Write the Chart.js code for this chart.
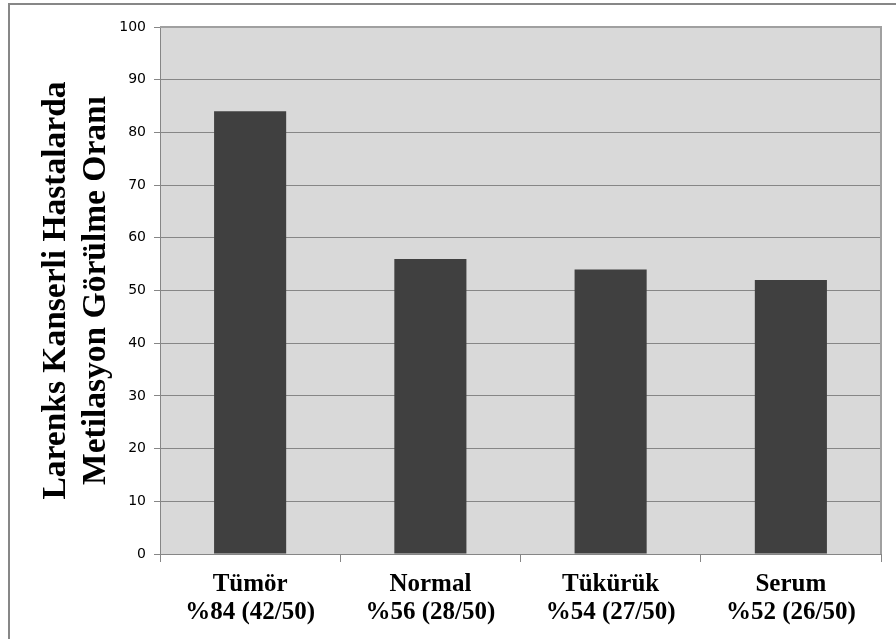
<!DOCTYPE html>
<html>
<head>
<meta charset="utf-8">
<script src="https://cdn.jsdelivr.net/npm/chart.js@4.4.1/dist/chart.umd.min.js"></script>
<style>
  html, body { margin: 0; padding: 0; background: #fff; }
  #wrap { position: relative; width: 896px; height: 639px; overflow: hidden; }
  #frame { position: absolute; left: 8px; top: 3px; width: 900px; height: 700px;
           border-left: 2px solid #878787; border-top: 2px solid #878787; }
  canvas { position: absolute; left: 0; top: 0; }
</style>
</head>
<body>
<div id="wrap">
  <div id="frame"></div>
  <canvas id="chart" width="896" height="639"></canvas>
</div>
<script>
const categories = [
  ['Tümör', '%84 (42/50)'],
  ['Normal', '%56 (28/50)'],
  ['Tükürük', '%54 (27/50)'],
  ['Serum', '%52 (26/50)']
];
const values = [84, 56, 54, 52];
const yTitle = ['Larenks Kanserli Hastalarda', 'Metilasyon Görülme Oranı'];

const plotBg = {
  id: 'plotBg',
  beforeDraw(chart) {
    const { ctx, chartArea: a } = chart;
    ctx.save();
    ctx.fillStyle = '#d9d9d9';
    ctx.fillRect(a.left, a.top, a.right - a.left, a.bottom - a.top);
    ctx.restore();
  },
  afterDatasetsDraw(chart) {
    const { ctx, chartArea: a } = chart;
    ctx.save();
    ctx.strokeStyle = '#a0a0a0';
    ctx.lineWidth = 2;
    ctx.beginPath();
    ctx.moveTo(a.left, a.top);
    ctx.lineTo(a.right, a.top);
    ctx.lineTo(a.right, a.bottom);
    ctx.stroke();
    ctx.restore();
  }
};

new Chart(document.getElementById('chart').getContext('2d'), {
  type: 'bar',
  data: {
    labels: categories,
    datasets: [{
      data: values,
      backgroundColor: '#404040',
      borderWidth: 0,
      barPercentage: 0.4,
      categoryPercentage: 1
    }]
  },
  options: {
    responsive: false,
    animation: false,
    layout: { padding: { left: 10, top: 27, right: 15, bottom: 0 } },
    plugins: {
      legend: { display: false },
      tooltip: { enabled: false }
    },
    scales: {
      x: {
        offset: true,
        grid: {
          offset: true,
          drawOnChartArea: false,
          drawTicks: true,
          tickLength: 8,
          color: '#868686'
        },
        border: { color: '#868686' },
        ticks: {
          color: '#000',
          padding: 9,
          font: { family: 'Liberation Serif', size: 25, weight: 'bold', lineHeight: 1.12 }
        },
        afterFit(scale) { scale.height = 85; }
      },
      y: {
        min: 0,
        max: 100,
        ticks: {
          stepSize: 10,
          color: '#000',
          padding: 8,
          font: { family: 'DejaVu Sans', size: 14 }
        },
        grid: { color: '#868686', tickLength: 6 },
        border: { color: '#868686' },
        title: {
          display: true,
          text: yTitle,
          color: '#000',
          padding: { top: 26, bottom: 0 },
          font: { family: 'Liberation Serif', size: 33.5, weight: 'bold', lineHeight: 1.2 }
        },
        afterFit(scale) { scale.width = 150; }
      }
    }
  },
  plugins: [plotBg]
});
</script>
</body>
</html>
